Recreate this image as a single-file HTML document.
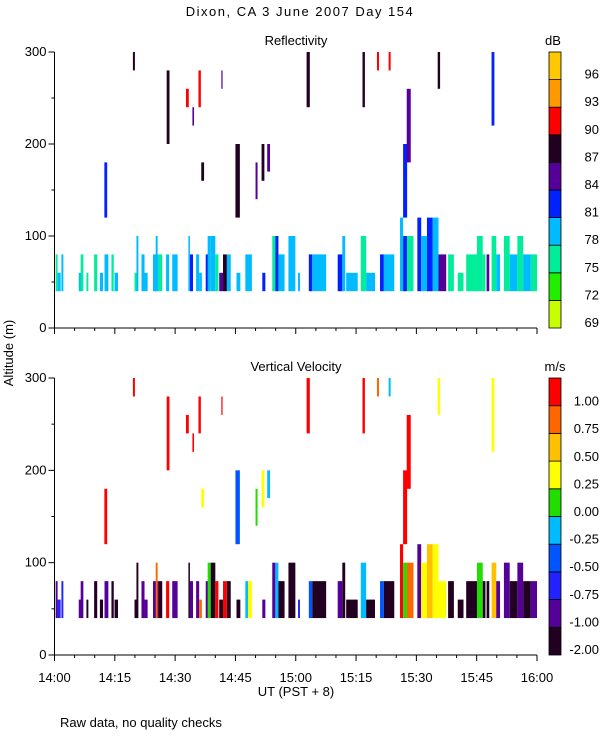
<!DOCTYPE html>
<html><head><meta charset="utf-8"><style>
body{margin:0;background:#fff;width:600px;height:750px;overflow:hidden}
svg{position:absolute;left:0;top:0}
text{font-family:"Liberation Sans",sans-serif;font-size:13px;fill:#000}
</style></head><body>
<svg id="c" width="600" height="750"></svg>
<script>
// low-level clutter columns (minutes after 14:00)
const lowStart=[0.29,0.77,1.72,6.03,6.51,7.94,9.86,11.29,12.44,14.16,14.93,19.9,20.38,21.63,22.39,24.5,25.17,25.84,27.75,29.28,33.3,33.68,35.22,35.98,37.61,38.09,38.85,40,40.96,41.91,42.87,45.26,47.46,48.13,51.68,54.16,54.93,55.69,58.18,60.57,63.25,64.11,70.43,71.58,72.54,76.17,77.51,80.96,81.91,85.93,86.7,87.66,90.24,91.2,92.63,94.07,95.5,97.89,100.29,102.39,105.07,106.51,107.46,108.71,109.86,111.77,113.21,115.12,116.56,118.47];
const lowEnd=[0.77,1.53,2.2,6.7,7.18,8.42,10.62,12.06,13.4,14.74,15.79,20.67,20.86,22.39,23.16,25.84,25.65,26.79,28.52,30.62,33.68,34.45,35.98,36.65,38.28,38.85,40,40.77,41.91,42.87,43.83,46.22,48.13,49.09,52.44,54.93,55.69,57.22,59.9,61.05,64.11,67.56,71.58,72.3,75.41,77.51,79.71,81.91,84.5,86.7,87.66,89.28,91.2,92.63,94.07,95.5,97.42,99.33,101.72,105.07,106.51,107.18,108.13,109.86,110.81,113.21,115.12,116.56,118.47,120];
const lowTop=[80,60,80,60,80,60,80,60,80,80,60,60,100,80,60,80,100,80,80,80,100,80,80,60,80,100,100,80,60,80,80,60,80,80,60,100,100,80,100,60,80,80,80,100,60,100,60,80,80,120,100,100,120,100,120,120,80,80,60,80,100,80,80,100,80,100,80,100,80,80];
const lowRefl=[75,78,78,78,76,75,75,78,78,76,78,76,78,78,78,78,78,76,78,78,78,82,78,78,82,78,78,76,84,88,78,78,78,78,81,76,81,78,78,78,81,78,81,78,78,76,78,81,78,78,81,76,81,78,81,78,84,75,74,75,76,75,85,75,78,76,78,75,78,76];
const lowVel=[-0.8,-0.75,-0.6,-0.9,-1.0,-1.5,-1.5,-1.5,-1.0,-1.5,-1.5,-1.5,-1.5,-0.9,-1.0,-1.0,0.9,-1.5,1.0,-0.8,-1.5,-0.9,-1.0,0.9,-0.8,0.0,-1.5,1.0,-1.5,1.0,-1.5,-1.5,-0.25,0.25,-1.0,-0.9,-0.2,-1.5,-1.5,-0.6,-0.3,-1.5,-0.9,-1.5,-1.5,-0.2,-1.5,-0.4,-1.5,1.0,0.0,0.9,-0.9,0.3,0.5,0.4,0.3,-1.5,-1.5,-1.5,0.0,-1.5,-1.5,0.6,-0.8,-0.9,-1.5,-1.0,-1.5,-0.8];
// elevated echoes
const upT=[19.5,27.9,32.7,34.3,35.8,41.5,62.7,76.6,80.2,83.1,95.3,108.7,86.7,87.6,12.4,36.5,45,50,51.5,52.9];
const upW=[0.5,0.7,0.7,0.4,0.6,0.3,0.8,0.6,0.5,0.5,0.6,0.7,1,1,0.7,0.7,1.1,0.5,0.7,0.7];
const upLo=[280,200,240,220,240,260,240,240,280,280,260,220,120,180,120,160,120,140,160,170];
const upHi=[300,280,260,240,280,280,300,300,300,300,300,300,200,260,180,180,200,180,200,200];
const upRefl=[87,88,90,85,90,85,88,87,90,90,87,82,81,85,82,88,88,84,88,84];
const upVel=[1,1,1,1,1,1,1,1,0.9,-0.1,0.3,0.3,1,1,1,0.4,-0.5,0.1,0.4,-0.1];
const reflLabels=["69","72","75","78","81","84","87","90","93","96"];
const velLabels=["-2.00","-1.00","-0.75","-0.50","-0.25","0.00","0.25","0.50","0.75","1.00"];
const xLabels=["14:00","14:15","14:30","14:45","15:00","15:15","15:30","15:45","16:00"];
const yLabels=[0,100,200,300];

const reflCols=["#c8ff00","#22ee00","#00ee99","#00bbff","#0022ff","#550099","#220022","#ff0000","#ff9900","#ffc800"];
const velCols=["#220022","#550099","#2222ff","#0055ff","#00bbff","#22dd00","#ffff00","#ffc000","#ff6600","#ff0000"];
function reflIdx(v){return Math.max(0,Math.min(9,Math.round((v-69)/3)));}
function velIdx(v){if(v<-1)return 0;return Math.max(1,Math.min(9,Math.floor((v+1)/0.25)+1));}

const X0=54.5,X1=537;
function xs(m){return X0+(X1-X0)*m/120;}
const panels=[{top:52,bot:328,name:"reflectivity",title:"Reflectivity",unit:"dB",ux:553,cols:reflCols,labels:reflLabels},
{top:378,bot:655,name:"vertical-velocity",title:"Vertical Velocity",unit:"m/s",ux:555,cols:velCols,labels:velLabels}];
const svg=document.getElementById('c');
const NS="http://www.w3.org/2000/svg";
function el(t,a,p){const e=document.createElementNS(NS,t);for(const k in a)e.setAttribute(k,a[k]);(p||svg).appendChild(e);return e;}
function txt(s,a,p){const e=el('text',a,p);e.textContent=s;return e;}

const title=txt("Dixon, CA   3 June 2007   Day 154",{x:300,y:16,'text-anchor':'middle','font-size':'17','letter-spacing':'1.5','xml:space':'preserve'});



panels.forEach((P,pi)=>{
  const g=el('g',{});
  
  
  const ys=a=>P.bot-(P.bot-P.top)*a/300;
  const colOf=pi==0?(v=>reflCols[reflIdx(v)]):(v=>velCols[velIdx(v)]);
  for(let i=0;i<lowStart.length;i++){
    const r=el('rect',{x:xs(lowStart[i]),y:ys(lowTop[i]),width:Math.max(0.6,xs(lowEnd[i])-xs(lowStart[i])),height:ys(40)-ys(lowTop[i]),fill:colOf(pi==0?lowRefl[i]:lowVel[i])},g);
    
    
  }
  for(let i=0;i<upT.length;i++){
    const r=el('rect',{x:xs(upT[i]),y:ys(upHi[i]),width:xs(upT[i]+upW[i])-xs(upT[i]),height:ys(upLo[i])-ys(upHi[i]),fill:colOf(pi==0?upRefl[i]:upVel[i])},g);
    
    
  }
  el('line',{x1:X0,y1:P.top,x2:X0,y2:P.bot,stroke:'#000'},g);
  el('line',{x1:X0,y1:P.bot,x2:X1,y2:P.bot,stroke:'#000'},g);
  for(let a=0;a<=300;a+=50){el('line',{x1:X0-(a%100?3:6),y1:ys(a),x2:X0,y2:ys(a),stroke:'#000'},g);}
  yLabels.forEach(a=>{const t=txt(String(a),{x:X0-8,y:ys(a)+4,'text-anchor':'end'},g);
    });
  for(let m=0;m<=120;m+=5){el('line',{x1:xs(m),y1:P.bot,x2:xs(m),y2:P.bot+(m%15?3:6),stroke:'#000'},g);}
  const tt=txt(P.title,{x:296,y:P.top-7,'text-anchor':'middle','font-size':'14'},g);
  
  const ut=txt(P.unit,{x:P.ux,y:P.top-7,'text-anchor':'middle','font-size':'14'},g);
  
  const h=(P.bot-P.top)/10;
  for(let i=0;i<10;i++){
    const r=el('rect',{x:549,y:P.bot-(i+1)*h,width:12,height:h,fill:P.cols[i],stroke:'#000','stroke-width':0.8},g);
    
    const t=txt(P.labels[i],{x:599,y:P.bot-5-i*27.6+4,'text-anchor':'end'},g);
    
  }
});
xLabels.forEach((s,i)=>{const t=txt(s,{x:xs(i*15),y:682,'text-anchor':'middle'});
  });
const xt=txt("UT  (PST + 8)",{x:296,y:696,'text-anchor':'middle','xml:space':'preserve'});

const yt=txt("Altitude (m)",{x:0,y:0,'text-anchor':'middle',transform:'translate(13,353) rotate(-90)','font-size':'14'});

const nt=txt("Raw data, no quality checks",{x:60,y:727,'font-size':'12'});

</script>
</body></html>
